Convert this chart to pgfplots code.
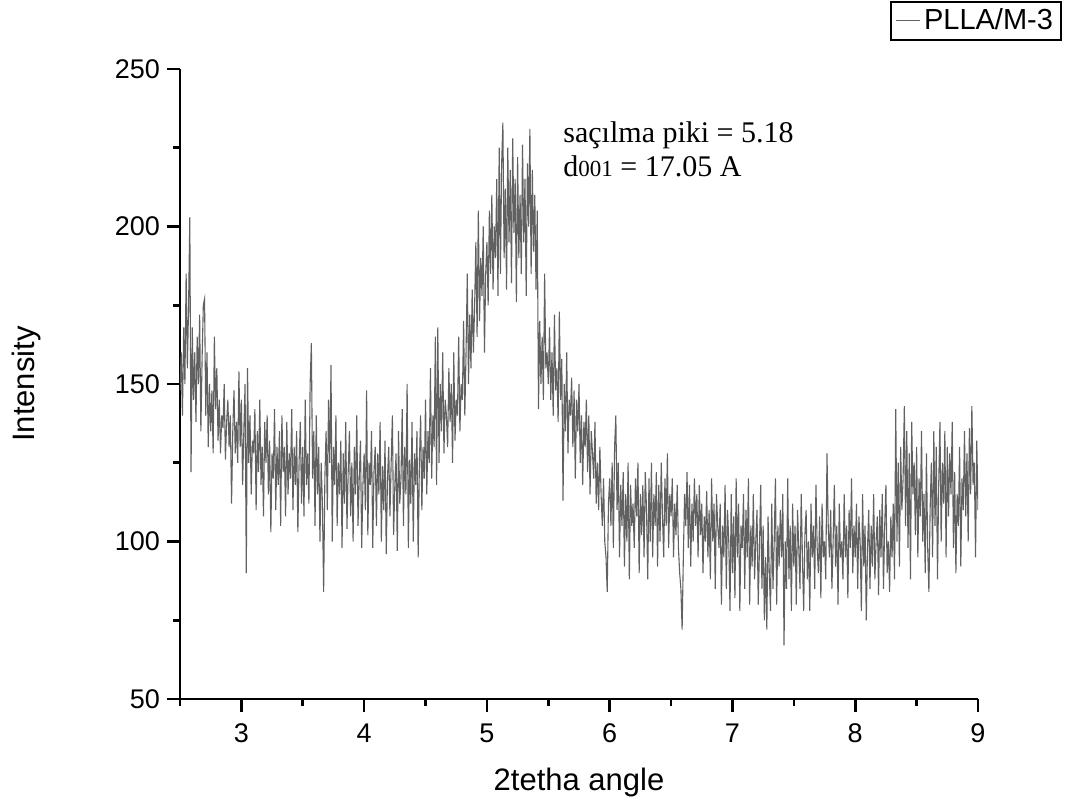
\documentclass[border=0pt]{standalone}
\usepackage{pgfplots}
\pgfplotsset{compat=1.18}
\usepackage{pgfplotstable}
\usepackage{fontspec}
\setmainfont{Liberation Sans}
\newfontfamily\seriffont{Liberation Serif}
% intensities from 2.50 to 9.00 in steps of 0.01
\pgfplotstableread[header=false,row sep=\\]{
148\\160\\140\\168\\150\\185\\155\\175\\203\\122\\
168\\145\\160\\138\\165\\150\\172\\135\\158\\175\\
177\\140\\160\\130\\150\\135\\148\\128\\165\\142\\
155\\132\\145\\128\\140\\136\\150\\126\\138\\145\\
130\\140\\112\\135\\148\\128\\138\\125\\154\\130\\
145\\118\\135\\150\\90\\155\\125\\140\\115\\132\\
128\\142\\110\\135\\122\\145\\118\\130\\108\\138\\
125\\140\\115\\132\\103\\128\\120\\142\\110\\130\\
118\\135\\105\\140\\122\\130\\108\\138\\115\\128\\
120\\142\\110\\130\\118\\135\\103\\125\\138\\112\\
130\\108\\145\\118\\128\\112\\150\\163\\120\\135\\
105\\140\\115\\130\\100\\125\\112\\84\\120\\135\\
110\\145\\125\\156\\100\\130\\118\\140\\105\\125\\
115\\132\\98\\128\\112\\138\\104\\122\\135\\108\\
125\\100\\130\\115\\140\\105\\120\\132\\98\\118\\
128\\110\\148\\102\\125\\118\\135\\98\\122\\130\\
105\\128\\115\\138\\100\\124\\110\\132\\96\\120\\
130\\108\\125\\140\\102\\118\\128\\97\\135\\112\\
120\\142\\105\\130\\115\\150\\98\\126\\112\\138\\
100\\128\\118\\135\\95\\125\\140\\110\\130\\120\\
145\\115\\135\\125\\155\\120\\140\\130\\165\\118\\
168\\125\\150\\135\\160\\128\\145\\140\\130\\155\\
138\\150\\125\\160\\132\\145\\140\\165\\135\\150\\
145\\170\\140\\160\\185\\150\\172\\155\\180\\160\\
175\\195\\165\\205\\170\\190\\178\\200\\160\\185\\
195\\175\\205\\185\\210\\180\\200\\190\\215\\178\\
225\\185\\220\\233\\190\\212\\180\\225\\195\\218\\
182\\228\\198\\215\\176\\222\\190\\210\\185\\226\\
195\\215\\178\\220\\200\\231\\185\\218\\192\\210\\
180\\205\\142\\170\\150\\165\\145\\185\\155\\160\\
150\\168\\145\\160\\140\\172\\148\\155\\138\\173\\
145\\158\\113\\150\\135\\160\\128\\145\\140\\152\\
130\\148\\120\\145\\135\\150\\125\\140\\118\\138\\
130\\145\\122\\140\\115\\135\\128\\120\\138\\112\\
125\\110\\130\\115\\105\\120\\100\\95\\84\\112\\
120\\105\\125\\98\\130\\140\\110\\125\\95\\118\\
105\\122\\92\\115\\100\\125\\88\\118\\105\\112\\
98\\120\\108\\125\\90\\115\\102\\118\\95\\122\\
110\\88\\120\\100\\125\\95\\115\\105\\122\\92\\
118\\100\\125\\108\\95\\120\\105\\128\\98\\115\\
108\\120\\95\\112\\102\\118\\98\\90\\85\\72\\
95\\115\\105\\122\\98\\118\\92\\112\\100\\120\\
105\\115\\95\\118\\102\\112\\90\\108\\100\\116\\
95\\110\\88\\120\\100\\112\\85\\115\\105\\98\\
112\\80\\105\\95\\118\\85\\110\\100\\78\\115\\
90\\108\\82\\120\\95\\112\\78\\105\\98\\115\\
85\\110\\95\\120\\80\\105\\92\\115\\88\\100\\
110\\80\\98\\118\\85\\105\\75\\95\\72\\108\\
90\\78\\112\\85\\100\\120\\80\\105\\92\\110\\
95\\115\\67\\100\\85\\120\\88\\105\\78\\112\\
92\\105\\80\\110\\98\\85\\115\\95\\78\\102\\
110\\88\\100\\78\\112\\95\\105\\85\\118\\98\\
90\\108\\82\\112\\95\\100\\88\\128\\105\\95\\
110\\85\\100\\118\\92\\105\\80\\112\\95\\100\\
88\\115\\95\\105\\82\\110\\98\\120\\90\\105\\
95\\112\\85\\108\\100\\78\\115\\92\\105\\75\\
98\\110\\85\\105\\92\\115\\88\\100\\108\\83\\
110\\95\\115\\85\\105\\118\\90\\100\\84\\108\\
95\\112\\88\\142\\100\\125\\92\\130\\110\\120\\
143\\105\\135\\98\\128\\88\\138\\115\\125\\102\\
130\\95\\120\\108\\135\\100\\115\\90\\128\\98\\
84\\110\\125\\95\\135\\105\\130\\88\\118\\138\\
100\\125\\112\\135\\95\\130\\108\\128\\115\\138\\
98\\122\\90\\115\\105\\130\\92\\120\\110\\135\\
108\\128\\100\\136\\115\\143\\118\\125\\95\\132\\
110\\
}\xrd
\begin{document}
\begin{tikzpicture}
\useasboundingbox (-90pt,-52pt) rectangle (443.5pt,349.5pt);
\begin{axis}[
  scale only axis, width=399pt, height=315pt,
  xmin=2.5, xmax=9, ymin=50, ymax=250,
  axis x line*=bottom, axis y line*=left,
  axis line style={line width=1.3pt},
  xtick={3,4,5,6,7,8,9}, ytick={50,100,150,200,250},
  minor xtick={2.5,3.5,4.5,5.5,6.5,7.5,8.5},
  minor ytick={75,125,175,225},
  tick align=outside, major tick length=6.5pt, minor tick length=3.5pt,
  major tick style={line width=1.3pt, black},
  minor tick style={line width=1.3pt, black},
  ticklabel style={font=\fontsize{13.5}{16}\selectfont},
  xticklabel style={yshift=-2.5pt},
  /pgf/number format/assume math mode=true,
  xlabel={2tetha angle}, ylabel={Intensity},
  label style={font=\fontsize{15.5}{18}\selectfont},
  xlabel style={at={(axis description cs:0.5,-0.098)}, anchor=north},
  ylabel style={at={(axis description cs:-0.192,0.5)}, anchor=center},
  legend style={at={(1.105,1.108)}, anchor=north east, draw=black,
    line width=0.8pt, font=\fontsize{14.5}{17}\selectfont,
    inner xsep=2pt, inner ysep=1.5pt},
  legend image code/.code={\draw[#1, line width=0.5pt] (0pt,0pt) -- (12pt,0pt);},
]
\addplot[color=black!62, line width=0.55pt, no markers]
  table[x expr={2.5+0.01*\coordindex}, y index=0] {\xrd};
\addlegendentry{PLLA/M-3}
\node[anchor=base west, inner sep=0pt, font=\seriffont\fontsize{15}{16.5}\selectfont]
  at (rel axis cs:0.48,0.883) {saçılma piki = 5.18};
\node[anchor=base west, inner sep=0pt, font=\seriffont\fontsize{15}{16.5}\selectfont]
  at (rel axis cs:0.48,0.830) {d{\fontsize{11.5}{11.5}\selectfont 001} = 17.05 A};
\end{axis}
\end{tikzpicture}
\end{document}
